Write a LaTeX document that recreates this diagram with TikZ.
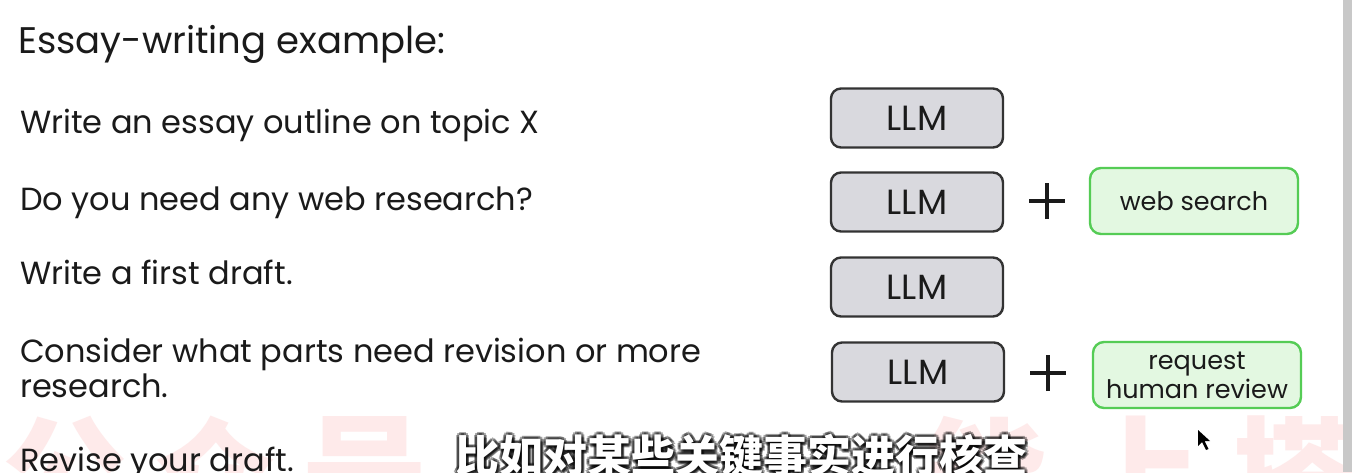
\documentclass[tikz,border=0pt]{standalone}
\usepackage{fontspec}
\setmainfont{Poppins}
\newfontfamily\cjk{Noto Sans CJK SC}
\definecolor{ink}{HTML}{1A1A1A}
\definecolor{llmfill}{HTML}{D9D9DE}
\definecolor{llmdraw}{HTML}{333333}
\definecolor{gfill}{HTML}{E3F8E1}
\definecolor{gdraw}{HTML}{55CC55}
\definecolor{wm}{HTML}{FEEAEA}
\definecolor{bar}{HTML}{C8C8C8}
\begin{document}
\begin{tikzpicture}[x=1pt,y=-1pt,
  body/.style={anchor=base west,inner sep=0pt,text=ink,font=\fontsize{32}{38}\selectfont},
  llmbox/.style={draw=llmdraw,fill=llmfill,line width=2.4pt,rounded corners=10pt,minimum width=172pt,minimum height=59pt,inner sep=0pt,text=ink,font=\fontsize{35}{40}\selectfont},
  toolbox/.style={draw=gdraw,fill=gfill,line width=2.4pt,rounded corners=11pt,inner sep=0pt,text=ink,align=center,font=\fontsize{25.5}{29}\selectfont},
  wmchar/.style={anchor=north,inner sep=0pt,text=wm,font=\cjk\bfseries\fontsize{125}{125}\selectfont},
  plus/.style={line width=4.5pt,draw=ink}
]
\useasboundingbox (0,0) rectangle (1352,472);
\clip (0,0) rectangle (1352,472);
\fill[white] (0,0) rectangle (1352,472);
% watermark
\node[wmchar] (w1) at (65,416) {公};
\node[wmchar] (w2) at (215,416) {众};
\node[wmchar] (w3) at (365,416) {号};
\node[wmchar] (w7) at (985,416) {能};
\node[wmchar] (w8) at (1140,416) {上};
\node[wmchar] (w9) at (1295,416) {搭};
% right bar
\fill[bar] (1343,0) rectangle (1352,472);
% title
\node[anchor=base west,inner sep=0pt,text=ink,font=\fontsize{37}{44}\selectfont] (title) at (18,53) {Essay-writing example:};
% steps
\node[body] (s1) at (20,133) {Write an essay outline on topic X};
\node[body] (s2) at (20,210) {Do you need any web research?};
\node[body] (s3) at (20,284) {Write a first draft.};
\node[body] (s4a) at (20,362) {Consider what parts need revision or more};
\node[body] (s4b) at (20,397) {research.};
\node[body] (s5) at (20,471) {Revise your draft.};
% LLM boxes
\node[llmbox] (l1) at (917,118) {LLM};
\node[llmbox] (l2) at (917,202) {LLM};
\node[llmbox] (l3) at (917,287) {LLM};
\node[llmbox] (l4) at (918,372) {LLM};
% plus signs
\coordinate (p2) at (1047,201);
\coordinate (p4) at (1048,373);
\draw[plus] ([xshift=-18pt]p2) -- ([xshift=18pt]p2) ([yshift=-18pt]p2) -- ([yshift=18pt]p2);
\draw[plus] ([xshift=-18pt]p4) -- ([xshift=18pt]p4) ([yshift=-18pt]p4) -- ([yshift=18pt]p4);
% tools
\node[toolbox,minimum width=208pt,minimum height=66pt] (t2) at (1194,201) {web search};
\node[toolbox,minimum width=208pt,minimum height=66pt] (t4) at (1197,375) {request\\human review};
% cursor
\fill[black] (1198,430) -- (1198,446) -- (1202,442) -- (1206,450) -- (1208.5,449) -- (1204.5,441) -- (1210,441) -- cycle;
% subtitle
\foreach \dx/\dy in {-3/0,3/0,0/-3,0/3,-2/-2,2/2,-2/2,2/-2,1.5/3.5,3/3}{
  \node[anchor=north west,inner sep=0pt,text=black,opacity=0.35,font=\cjk\bfseries\fontsize{44}{44}\selectfont] at (455+\dx,434+\dy) {比如对某些关键事实进行核查};
}
\node[anchor=north west,inner sep=0pt,text=white,font=\cjk\bfseries\fontsize{44}{44}\selectfont] (sub) at (455,434) {比如对某些关键事实进行核查};
\end{tikzpicture}
\end{document}
